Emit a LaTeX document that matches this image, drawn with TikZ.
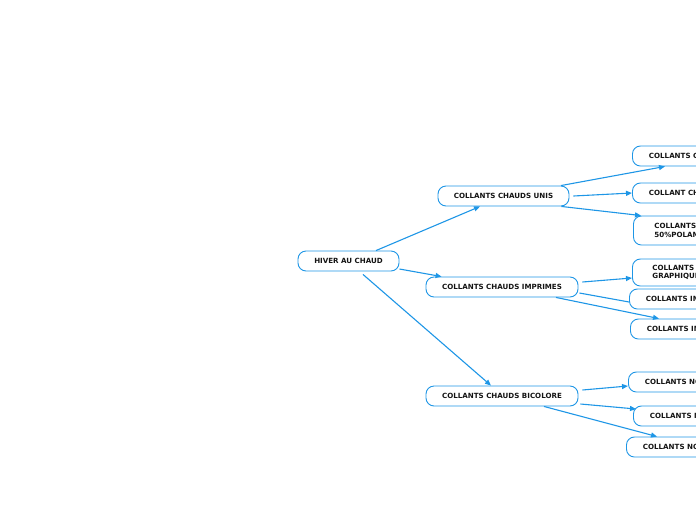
\documentclass[tikz,border=0pt]{standalone}
\usepackage{fontspec}
\setmainfont{DejaVu Sans}
\usetikzlibrary{arrows.meta}
\definecolor{mapblue}{RGB}{30,150,230}
\definecolor{txt}{RGB}{20,20,20}
\tikzset{
  topic/.style={draw=mapblue, line width=0.9pt, rounded corners=8pt, fill=white,
    text=txt, font=\fontsize{7.1}{8}\selectfont\bfseries, inner sep=0pt, minimum height=20pt},
  leaf/.style={topic, anchor=west, inner xsep=16.5pt},
  leaftwo/.style={topic, anchor=west, inner xsep=21pt, align=left, font=\fontsize{7.1}{8.6}\selectfont\bfseries},
  conn/.style={draw=mapblue, line width=1.1pt, -{Triangle[length=6pt,width=5pt]}},
  plain/.style={draw=mapblue, line width=1.1pt}
}
\begin{document}
\begin{tikzpicture}[x=1pt,y=-1pt]
\useasboundingbox (0,0) rectangle (696,520);
\clip (0,0) rectangle (696,520);
\node[topic, minimum width=101pt] (hiver) at (348.5,261) {HIVER AU CHAUD};
\node[topic, minimum width=131pt] (unis) at (503.5,196) {COLLANTS CHAUDS UNIS};
\node[topic, minimum width=152pt] (impr) at (502,287) {COLLANTS CHAUDS IMPRIMES};
\node[topic, minimum width=152pt] (bico) at (502,396) {COLLANTS CHAUDS BICOLORE};

\node[leaf] (u1) at (632,156) {COLLANTS CHAUDS NOIRS};
\node[leaf] (u2) at (632,193) {COLLANT CHAUD OPAQUE};
\node[leaftwo, minimum height=29pt] (u3) at (633,230.5) {COLLANTS 50\%LAINE\\50\%POLAMIDE};
\node[leaftwo, minimum height=27pt, inner xsep=20pt] (i1) at (632,272.5) {COLLANTS\\GRAPHIQUES};
\node[leaf] (i2) at (629,299) {COLLANTS IMPRIMES FLEURS};
\node[leaf] (i3) at (630,329) {COLLANTS IMPRIMES ANIMAUX};
\node[leaf] (b1) at (628,382) {COLLANTS NOIR ET BLANC};
\node[leaf] (b2) at (633,416) {COLLANTS NOIR ET ROUGE};
\node[leaf] (b3) at (626,447) {COLLANTS NOIR ET GRIS};

\draw[conn] ([xshift=27.5]hiver.north) -- ([xshift=-23.5]unis.south);
\draw[conn] ([yshift=-8]hiver.east) -- ([xshift=16]impr.north west);
\draw[conn] ([xshift=14.5,yshift=-3]hiver.south) -- ([xshift=-11]bico.north);

\draw[conn] ([xshift=57.5]unis.north) -- ([xshift=33]u1.south west);
\draw[conn] ([xshift=4]unis.east) -- (u2.west);
\draw[conn] ([xshift=-8]unis.south east) -- ([xshift=8]u3.north west);

\draw[conn] ([xshift=4,yshift=5]impr.east) -- ([yshift=-5.5]i1.west);
\draw[plain] ([xshift=1,yshift=-6]impr.east) -- ([yshift=-3]i2.west);
\draw[conn] ([xshift=54]impr.south) -- ([xshift=29]i3.north west);

\draw[conn] ([xshift=4,yshift=6]bico.east) -- ([yshift=-4]b1.west);
\draw[conn] ([xshift=2,yshift=-8]bico.east) -- ([xshift=3,yshift=7]b2.west);
\draw[conn] ([xshift=42]bico.south) -- ([xshift=31]b3.north west);
\end{tikzpicture}
\end{document}
